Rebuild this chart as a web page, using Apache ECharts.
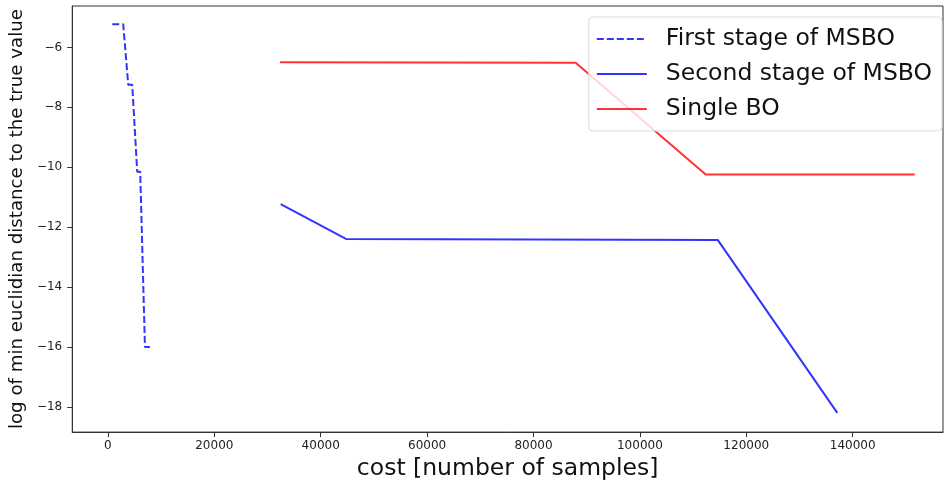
<!DOCTYPE html>
<html>
<head>
<meta charset="utf-8">
<script src="https://cdn.jsdelivr.net/npm/echarts@6/dist/echarts.min.js"></script>
<style>
  html, body { margin: 0; padding: 0; background: #fff; }
  #chart { width: 944px; height: 486px; }
</style>
</head>
<body>
<div id="chart"></div>
<script>
// cost values / log distance
var firstStageX = [810, 2880, 3820, 4570, 5510, 6070, 6960, 7900];
var firstStageY = [-5.23, -5.23, -7.25, -7.25, -10.15, -10.15, -15.99, -15.99];
var secondStageX = [32470, 44750, 114630, 137110];
var secondStageY = [-11.23, -12.39, -12.42, -18.19];
var singleBoX = [32340, 87930, 112370, 151670];
var singleBoY = [-6.50, -6.51, -10.24, -10.24];

var xTicks = [0, 20000, 40000, 60000, 80000, 100000, 120000, 140000];
var yTicks = [-18, -16, -14, -12, -10, -8, -6];

function pairs(xs, ys) {
  return xs.map(function(x, i) { return [x, ys[i]]; });
}

var font = "DejaVu Sans";
var chart = echarts.init(document.getElementById("chart"));

var option = {
  animation: false,
  backgroundColor: "#fff",
  grid: {
    left: 72, right: 1, top: 6, bottom: 52,
    show: true,
    borderColor: "#333",
    borderWidth: 1
  },
  legend: {
    orient: "vertical",
    right: 2,
    top: 17,
    data: ["First stage of MSBO", "Second stage of MSBO", "Single BO"],
    itemWidth: 50,
    itemHeight: 14,
    itemGap: 11,
    padding: [10, 10, 10, 7],
    backgroundColor: "rgba(255,255,255,0.8)",
    borderColor: "#ddd",
    borderWidth: 1,
    borderRadius: 4,
    itemStyle: { opacity: 0 },
    textStyle: {
      fontFamily: font,
      fontSize: 23.5,
      color: "#111",
      padding: [0, 0, 0, 14]
    }
  },
  xAxis: {
    type: "value",
    min: -6710,
    max: 156980,
    name: "cost [number of samples]",
    nameLocation: "middle",
    nameGap: 21,
    nameTextStyle: { fontFamily: font, fontSize: 23.5, color: "#111" },
    splitLine: { show: false },
    axisLine: { onZero: false, lineStyle: { color: "#333" } },
    axisTick: { show: true, length: 5, lineStyle: { color: "#333" }, customValues: xTicks },
    axisLabel: {
      customValues: xTicks,
      margin: 8,
      fontFamily: font,
      fontSize: 12,
      color: "#222",
      formatter: function(v) { return String(v); }
    }
  },
  yAxis: {
    type: "value",
    min: -18.83,
    max: -4.62,
    name: "log of min euclidian distance to the true value",
    nameLocation: "middle",
    nameGap: 46,
    nameTextStyle: { fontFamily: font, fontSize: 18.2, color: "#111" },
    splitLine: { show: false },
    axisLine: { show: true, onZero: false, lineStyle: { color: "#333" } },
    axisTick: { show: true, length: 5, lineStyle: { color: "#333" }, customValues: yTicks },
    axisLabel: {
      customValues: yTicks,
      margin: 10,
      fontFamily: font,
      fontSize: 12,
      color: "#222",
      formatter: function(v) { return String(v).replace("-", "\u2212"); }
    }
  },
  series: [
    {
      name: "First stage of MSBO",
      type: "line",
      symbol: "none",
      data: pairs(firstStageX, firstStageY),
      lineStyle: { color: "rgba(0,0,255,0.8)", width: 2, type: [7, 3] },
      itemStyle: { color: "rgba(0,0,255,0.8)" }
    },
    {
      name: "Second stage of MSBO",
      type: "line",
      symbol: "none",
      data: pairs(secondStageX, secondStageY),
      lineStyle: { color: "rgba(0,0,255,0.8)", width: 2 },
      itemStyle: { color: "rgba(0,0,255,0.8)" }
    },
    {
      name: "Single BO",
      type: "line",
      symbol: "none",
      data: pairs(singleBoX, singleBoY),
      lineStyle: { color: "rgba(255,0,0,0.8)", width: 2 },
      itemStyle: { color: "rgba(255,0,0,0.8)" }
    }
  ]
};

chart.setOption(option);
</script>
</body>
</html>
